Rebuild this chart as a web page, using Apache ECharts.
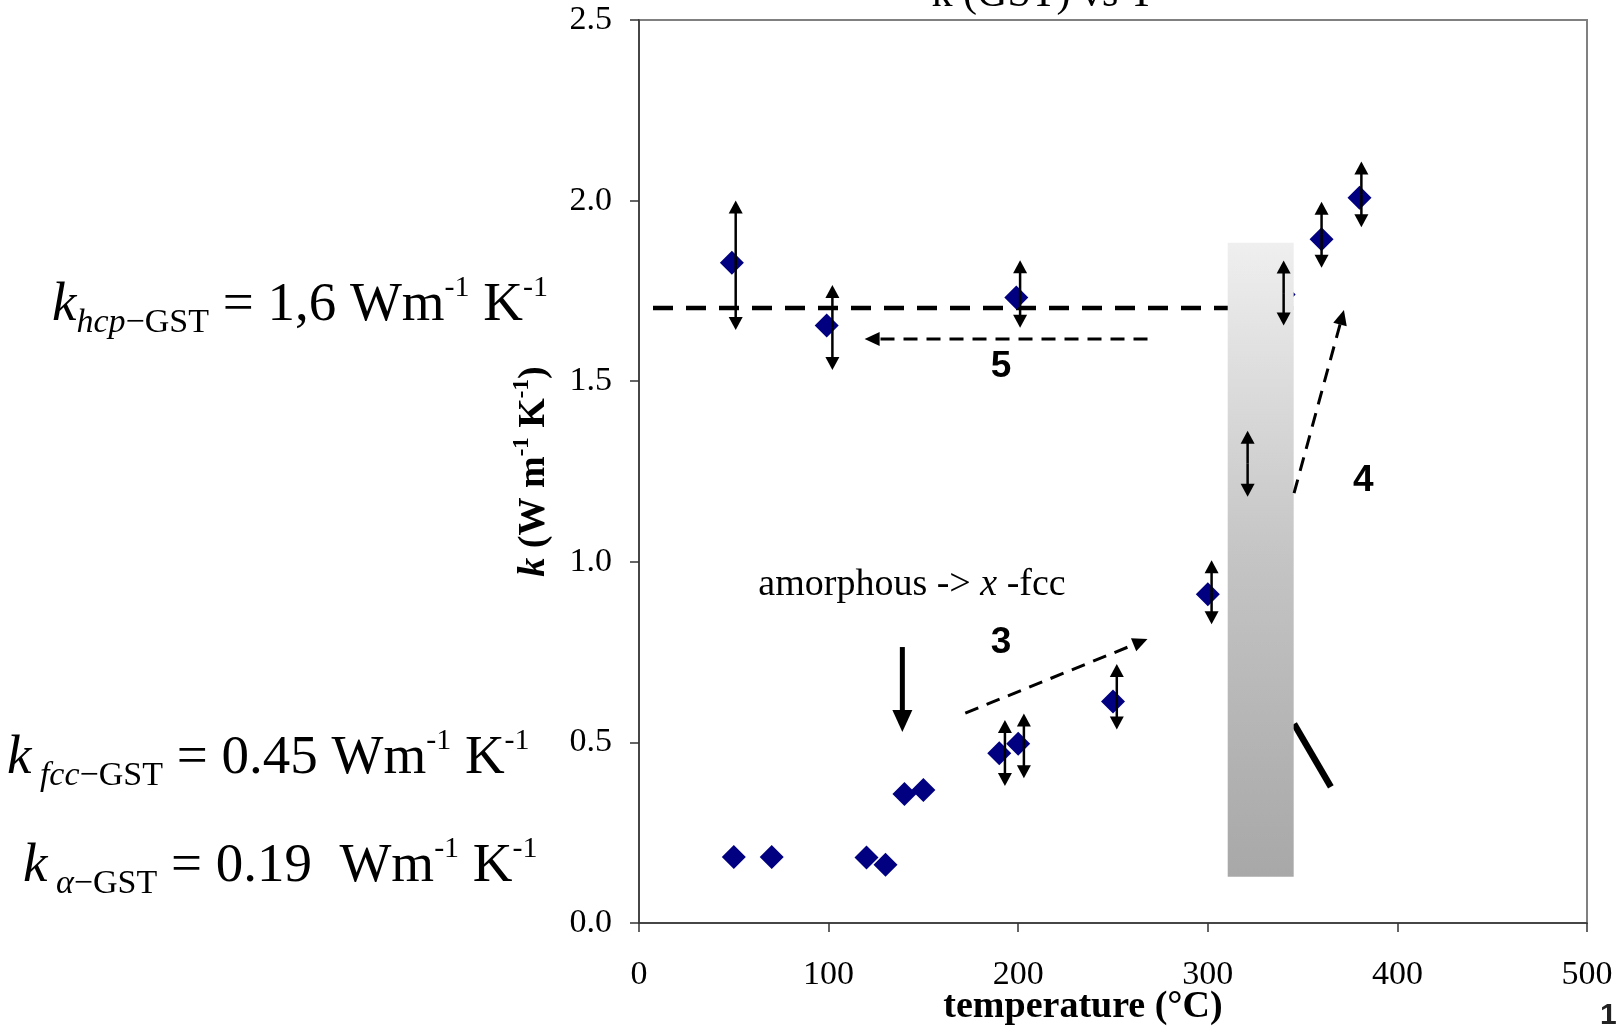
<!DOCTYPE html>
<html><head><meta charset="utf-8">
<script src="https://cdn.jsdelivr.net/npm/echarts@6/dist/echarts.min.js"></script>
<style>html,body{margin:0;padding:0;background:#fff}#c{width:1618px;height:1028px}</style>
</head><body><div id="c"></div>
<script>
// ---- data ----
const xTicks = [0, 100, 200, 300, 400, 500];
const yTicks = [0, 0.5, 1.0, 1.5, 2.0, 2.5];
const tempC = [49, 99, 199, 340, 360, 380, 300, 320, 250, 190, 200, 140, 150, 50, 70, 120, 130];
const kVal  = [1.828, 1.654, 1.732, 1.74, 1.893, 2.008, 0.910, 1.27, 0.613, 0.470, 0.496, 0.357, 0.368, 0.183, 0.183, 0.181, 0.161];
const errX    = [51, 102, 201, 340, 360, 381, 302, 321, 252, 193, 203];
const errLow  = [1.642, 1.531, 1.648, 1.654, 1.814, 1.926, 0.827, 1.180, 0.536, 0.379, 0.401];
const errHigh = [2.000, 1.766, 1.835, 1.834, 1.997, 2.108, 1.004, 1.363, 0.717, 0.562, 0.580];
const hcpLine = [[7.4, 1.703], [345, 1.703]];
const bandBox = [310.5, 0.128, 345.3, 1.883];
const dashArrowFrom = [[268.2, 1.617], [172.1, 0.581], [345.5, 1.19]];
const dashArrowTo   = [[119, 1.617], [268.2, 0.786], [371.8, 1.697]];
const solidArrow = [138.9, 0.764, 138.9, 0.529];
const thickLine = [[345.5, 0.551], [364.9, 0.377]];
const noteText = ['{b|5}', '{b|4}', '{b|3}', 'amorphous -> {i|x} -fcc'];
const noteX = [191, 382, 191, 144];
const noteY = [1.54, 1.224, 0.775, 0.936];

// ---- chart ----
const SERIF = "'Liberation Serif','Times New Roman',serif";
const SANS = "'Liberation Sans',Arial,sans-serif";
const chart = echarts.init(document.getElementById('c'));

function arrowShape(p1, p2, w, dash, hl, hw) {
  const dx = p2[0] - p1[0], dy = p2[1] - p1[1];
  const L = Math.hypot(dx, dy), ux = dx / L, uy = dy / L;
  const base = [p2[0] - ux * hl, p2[1] - uy * hl];
  const left = [base[0] - uy * hw / 2, base[1] + ux * hw / 2];
  const right = [base[0] + uy * hw / 2, base[1] - ux * hw / 2];
  return [
    {type: 'line', shape: {x1: p1[0], y1: p1[1], x2: base[0] + ux * 2, y2: base[1] + uy * 2},
      style: {stroke: '#000', lineWidth: w, lineDash: dash, fill: null}},
    {type: 'polygon', shape: {points: [p2, left, right]}, style: {fill: '#000'}}
  ];
}

const formulaRich = {
  k:  {fontFamily: SERIF, fontStyle: 'italic', fontSize: 55, lineHeight: 70, fill: '#000'},
  si: {fontFamily: SERIF, fontStyle: 'italic', fontSize: 34, lineHeight: 34, verticalAlign: 'bottom', fill: '#000'},
  s:  {fontFamily: SERIF, fontSize: 34, lineHeight: 34, verticalAlign: 'bottom', fill: '#000'},
  m:  {fontFamily: SERIF, fontSize: 55, lineHeight: 70, fill: '#000'},
  sup:{fontFamily: SERIF, fontSize: 30, lineHeight: 30, verticalAlign: 'top', padding: [3, 0, 0, 0], fill: '#000'}
};
function formulaText(x, y, text) {
  return {type: 'text', z: 10, style: {
    x: x, y: y, align: 'left', verticalAlign: 'middle',
    text: text, rich: formulaRich, font: '55px ' + SERIF, fill: '#000'}};
}

const option = {
  animation: false,
  backgroundColor: '#fff',
  grid: {left: 639, top: 20, width: 948, height: 903, show: true, borderColor: '#808080', borderWidth: 2, backgroundColor: 'transparent'},
  xAxis: {
    type: 'value', min: xTicks[0], max: xTicks[xTicks.length - 1], interval: 100,
    axisLine: {show: true, onZero: false, lineStyle: {color: '#333', width: 1.5}},
    axisTick: {show: true, inside: false, length: 9, lineStyle: {color: '#333', width: 1.5}},
    axisLabel: {margin: 35, fontFamily: SERIF, fontSize: 34, color: '#000'},
    splitLine: {show: false}
  },
  yAxis: {
    type: 'value', min: yTicks[0], max: yTicks[yTicks.length - 1], interval: 0.5,
    axisLine: {show: true, onZero: false, lineStyle: {color: '#333', width: 1.5}},
    axisTick: {show: true, inside: false, length: 9, lineStyle: {color: '#333', width: 1.5}},
    axisLabel: {margin: 27, fontFamily: SERIF, fontSize: 34, color: '#000', formatter: v => v.toFixed(1)},
    splitLine: {show: false},
    name: '{k|k} (W m{sup|-1} K{sup|-1})',
    nameLocation: 'middle', nameRotate: 90, nameGap: 82,
    nameTextStyle: {fontFamily: SERIF, fontWeight: 'bold', fontSize: 38, color: '#000', lineHeight: 46,
      rich: {
        k: {fontFamily: SERIF, fontWeight: 'bold', fontStyle: 'italic', fontSize: 38, lineHeight: 46, color: '#000'},
        sup: {fontFamily: SERIF, fontWeight: 'bold', fontSize: 23, lineHeight: 23, verticalAlign: 'top', color: '#000'}
      }}
  },
  graphic: [
    formulaText(52, 305.5, '{k|k}{si|hcp}{s|\u2212GST}{m| = 1,6 Wm}{sup|-1}{m| K}{sup|-1}'),
    formulaText(7, 758.5, '{k|k}{si| fcc}{s|\u2212GST}{m| = 0.45 Wm}{sup|-1}{m| K}{sup|-1}'),
    formulaText(23, 866.5, '{k|k}{si| \u03B1}{s|\u2212GST}{m| = 0.19  Wm}{sup|-1}{m| K}{sup|-1}'),
    {type: 'text', z: 10, style: {x: 1083, y: 1007, align: 'center', verticalAlign: 'middle',
      text: 'temperature (\u00B0C)', font: 'bold 38px ' + SERIF, fill: '#000'}},
    {type: 'text', z: 10, style: {x: 1043, y: 16, align: 'center', verticalAlign: 'bottom',
      text: 'k (GST) vs T', font: '42px ' + SERIF, fill: '#000'}},
    {type: 'text', z: 10, style: {x: 1600, y: 1016, align: 'left', verticalAlign: 'middle',
      text: '1', font: 'bold 30px ' + SANS, fill: '#222'}}
  ],
  series: [
    {type: 'line', z: 1, data: hcpLine, symbol: 'none', silent: true,
      lineStyle: {color: '#000', width: 4.5, type: [20, 13]}},
    {type: 'line', z: 1, data: thickLine, symbol: 'none', silent: true,
      lineStyle: {color: '#000', width: 6.5}},
    {type: 'scatter', z: 2, symbol: 'diamond', symbolSize: 24,
      itemStyle: {color: '#000080', opacity: 1},
      data: tempC.map((t, i) => [t, kVal[i]])},
    {type: 'custom', z: 3, silent: true,
      data: [bandBox],
      renderItem: (params, api) => {
        const p1 = api.coord([api.value(0), api.value(3)]);
        const p2 = api.coord([api.value(2), api.value(1)]);
        return {type: 'rect', shape: {x: p1[0], y: p1[1], width: p2[0] - p1[0], height: p2[1] - p1[1]},
          style: {fill: new echarts.graphic.LinearGradient(0, 0, 0, 1, [
            {offset: 0, color: '#efefef'}, {offset: 0.5, color: '#c4c4c4'}, {offset: 1, color: '#a8a8a8'}])}};
      }},
    {type: 'custom', z: 4, silent: true,
      data: errX.map((x, i) => [x, errLow[i], errHigh[i]]),
      renderItem: (params, api) => {
        const x = api.value(0);
        const lo = api.coord([x, api.value(1)]), hi = api.coord([x, api.value(2)]);
        const mid = [(lo[0] + hi[0]) / 2, (lo[1] + hi[1]) / 2];
        return {type: 'group', children: [].concat(
          arrowShape(mid, hi, 2.5, null, 13, 14),
          arrowShape(mid, lo, 2.5, null, 13, 14))};
      }},
    {type: 'custom', z: 4, silent: true,
      data: dashArrowFrom.map((a, i) => [a[0], a[1], dashArrowTo[i][0], dashArrowTo[i][1]]),
      renderItem: (params, api) => {
        const p1 = api.coord([api.value(0), api.value(1)]);
        const p2 = api.coord([api.value(2), api.value(3)]);
        return {type: 'group', children: arrowShape(p1, p2, 3, [14, 9], 15, 14)};
      }},
    {type: 'custom', z: 4, silent: true,
      data: [solidArrow],
      renderItem: (params, api) => {
        const p1 = api.coord([api.value(0), api.value(1)]);
        const p2 = api.coord([api.value(2), api.value(3)]);
        return {type: 'group', children: arrowShape(p1, p2, 5, null, 22, 20)};
      }},
    {type: 'custom', z: 5, silent: true,
      data: noteX.map((x, i) => [x, noteY[i]]),
      renderItem: (params, api) => {
        const p = api.coord([api.value(0), api.value(1)]);
        return {type: 'text', style: {
          x: p[0], y: p[1], align: 'center', verticalAlign: 'middle',
          text: noteText[params.dataIndex], font: '38px ' + SERIF, fill: '#000',
          rich: {
            b: {fontFamily: SANS, fontWeight: 'bold', fontSize: 37, fill: '#000'},
            i: {fontFamily: SERIF, fontStyle: 'italic', fontSize: 38, fill: '#000'}
          }}};
      }}
  ]
};
chart.setOption(option);
</script>
</body></html>
